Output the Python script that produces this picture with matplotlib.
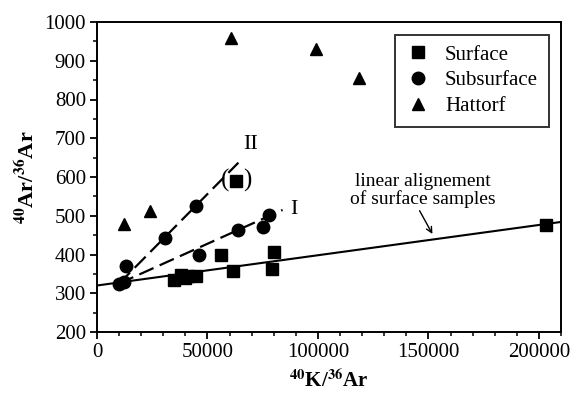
import numpy as np
import matplotlib.pyplot as plt

plt.rcParams['font.family'] = ['Liberation Serif', 'DejaVu Serif']
plt.rcParams['mathtext.fontset'] = 'stix'

# data
surface_x = [35000, 38000, 40000, 41000, 45000, 56000, 61500, 79000, 80000, 203000]
surface_y = [335, 348, 340, 345, 345, 398, 357, 362, 406, 475]
outlier_x = [63000]
outlier_y = [590]
subsurface_x = [10000, 12000, 13000, 31000, 45000, 46000, 64000, 75000, 78000]
subsurface_y = [325, 328, 370, 443, 525, 400, 463, 472, 503]
hattorf_x = [12000, 24000, 60500, 99000, 118500]
hattorf_y = [478, 512, 958, 930, 856]

# trend lines: ([x start, x end], [y start, y end])
line_surface = ([0, 210000], [320, 484])
line_I = ([10000, 84000], [325, 515])
line_II = ([10000, 64000], [325, 637])

fig = plt.figure(figsize=(5.83, 3.93), dpi=100)
ax = fig.add_axes([97 / 583, 1 - 332 / 393, 464 / 583, 310 / 393])

ax.plot(*line_surface, color='black', lw=1.5)
ax.plot(*line_I, color='black', lw=1.6, dashes=(7, 3))
ax.plot(*line_II, color='black', lw=1.6, dashes=(7, 3))

ax.plot(surface_x, surface_y, 's', color='black', ms=8.5, label='Surface')
ax.plot(outlier_x, outlier_y, 's', color='black', ms=8.5)
ax.plot(subsurface_x, subsurface_y, 'o', color='black', ms=9, label='Subsurface')
ax.plot(hattorf_x, hattorf_y, '^', color='black', ms=8, label='Hattorf')

# brackets around the doubtful point
ax.text(outlier_x[0] - 5000, outlier_y[0], '(', fontsize=18, ha='center', va='center')
ax.text(outlier_x[0] + 5200, outlier_y[0], ')', fontsize=18, ha='center', va='center')

ax.text(69500, 683, 'II', fontsize=16, ha='center', va='center')
ax.text(89000, 515, 'I', fontsize=16, ha='center', va='center')

ax.text(147500, 565, 'linear alignement\nof surface samples', ha='center', va='center',
        fontsize=14, linespacing=0.95)
ax.annotate('', xy=(151800, 453), xytext=(146000, 513),
            arrowprops=dict(arrowstyle='->', color='black', lw=1.0, shrinkA=0, shrinkB=0))

ax.set_xlim(0, 210000)
ax.set_ylim(200, 1000)
ax.set_xticks(np.arange(0, 200001, 50000))
ax.set_xticks(np.arange(0, 210001, 10000), minor=True)
ax.set_yticks(np.arange(200, 1001, 100))
ax.set_yticks(np.arange(200, 1001, 50), minor=True)
ax.tick_params(which='major', direction='out', length=5, width=1.3, labelsize=15, pad=3)
ax.tick_params(which='minor', direction='out', length=3, width=1.1)
for s in ax.spines.values():
    s.set_linewidth(1.4)

ax.set_xlabel(r'$^{\mathbf{40}}$K/$^{\mathbf{36}}$Ar', fontsize=15, fontweight='bold', labelpad=6)
ax.set_ylabel(r'$^{\mathbf{40}}$Ar/$^{\mathbf{36}}$Ar', fontsize=16, fontweight='bold', labelpad=4)

leg = ax.legend(loc='upper right', fontsize=15, frameon=True, fancybox=False,
                edgecolor='black', borderaxespad=0.6, handletextpad=0.7,
                labelspacing=0.3, handlelength=1.2, borderpad=0.5)
leg.get_frame().set_linewidth(1.4)

fig.savefig('out.png', dpi=100)
